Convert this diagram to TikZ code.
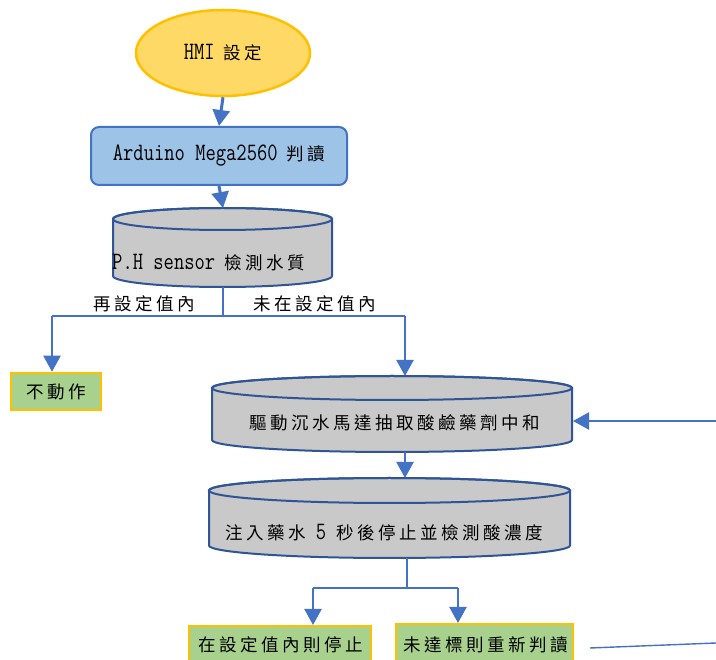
\documentclass[tikz,border=0pt]{standalone}
\usepackage{fontspec}
\usepackage{graphicx}
\usetikzlibrary{arrows.meta,shapes.geometric}
\newfontfamily\cjkfont[LetterSpace=20]{Noto Sans CJK TC}
\newcommand\zh[1]{{\cjkfont #1}}
\newcommand\lat[1]{\scalebox{1}[1.25]{\fontsize{20}{24}\selectfont\ttfamily #1}}
\newcommand\gap{\hspace{9pt}}
\definecolor{goldfill}{HTML}{FFD966}
\definecolor{goldline}{HTML}{FFC000}
\definecolor{boxblue}{HTML}{9DC3E6}
\definecolor{arrowblue}{HTML}{4472C4}
\definecolor{cylgray}{HTML}{C9C9C9}
\definecolor{cylline}{HTML}{2F5597}
\definecolor{boxgreen}{HTML}{A9D18E}
\begin{document}
\begin{tikzpicture}[x=1pt,y=1pt,
  txt/.style={font=\fontsize{17.5}{21}\selectfont, text=black, inner sep=0pt},
  startnode/.style={ellipse, draw=goldline, fill=goldfill, line width=2.5pt, minimum width=174pt, minimum height=86pt, inner sep=0pt, txt},
  procbox/.style={rectangle, rounded corners=8pt, draw=arrowblue, fill=boxblue, line width=2pt, minimum width=256pt, minimum height=58pt, txt},
  resultbox/.style={rectangle, draw=goldline, fill=boxgreen, line width=2.5pt, txt},
  cyl/.style={draw=cylline, fill=cylgray, line width=2pt},
  thickarrow/.style={draw=arrowblue, line width=3pt, -{Triangle[width=17pt,length=16pt]}},
  midarrow/.style={draw=arrowblue, line width=2.2pt, -{Triangle[width=17pt,length=16pt]}},
  thinline/.style={draw=arrowblue, line width=1.4pt}
]
\clip (0,0) rectangle (716,-660);
\fill[white] (0,0) rectangle (716,-660);

% start ellipse
\node[startnode] (hmi) at (223,-53) {\lat{HMI}\gap\zh{設定}};

% Arduino box
\node[procbox] (ard) at (219,-156) {\lat{Arduino Mega2560}\gap\zh{判讀}};

% cylinder 1
\filldraw[cyl] (113,-219) -- (113,-276) arc[start angle=180,end angle=360,x radius=109.5,y radius=11] -- (332,-219) arc[start angle=0,end angle=180,x radius=109.5,y radius=11] -- cycle;
\draw[cyl,fill=none] (222.5,-219) ellipse[x radius=109.5,y radius=11];
\node[txt, anchor=west] (ph) at (112,-263) {\lat{P.H sensor}\gap\zh{檢測水質}};
\coordinate (c1top) at (223,-208);
\coordinate (c1bot) at (223,-287);

% cylinder 2
\filldraw[cyl] (212,-388) -- (212,-440) arc[start angle=180,end angle=360,x radius=180,y radius=12] -- (572,-388) arc[start angle=0,end angle=180,x radius=180,y radius=12] -- cycle;
\draw[cyl,fill=none] (392,-388) ellipse[x radius=180,y radius=12];
\node[txt] (drive) at (395,-423) {\zh{驅動沉水馬達抽取酸鹼藥劑中和}};
\coordinate (c2top) at (405,-376);
\coordinate (c2bot) at (405,-452);
\coordinate (c2right) at (573,-421);

% cylinder 3
\filldraw[cyl] (209,-490.5) -- (209,-545.5) arc[start angle=180,end angle=360,x radius=180.5,y radius=12.5] -- (570,-490.5) arc[start angle=0,end angle=180,x radius=180.5,y radius=12.5] -- cycle;
\draw[cyl,fill=none] (389.5,-490.5) ellipse[x radius=180.5,y radius=12.5];
\node[txt] (inject) at (384,-533) {\zh{注入藥水}\lat{ 5 }\zh{秒後停止並檢測酸濃度}};
\coordinate (c3top) at (405,-478);
\coordinate (c3bot) at (407,-558);

% result boxes
\node[resultbox, minimum width=90pt, minimum height=37pt] (noact) at (56,-391.5) {\zh{不動作}};
\node[resultbox, minimum width=182pt, minimum height=42pt, anchor=north] (stop) at (280,-625) {};
\node[txt] (stoptxt) at (281,-645) {\zh{在設定值內則停止}};
\node[resultbox, minimum width=177pt, minimum height=44pt, anchor=north] (reread) at (484.5,-623) {};
\node[txt] (rereadtxt) at (486,-645) {\zh{未達標則重新判讀}};

% branch labels
\node[txt] (lblin) at (144.5,-304) {\zh{再設定值內}};
\node[txt] (lblout) at (314.5,-304) {\zh{未在設定值內}};

% junction coordinates
\coordinate (j1) at (223,-316);
\coordinate (jl) at (52,-316);
\coordinate (jr) at (405,-316);
\coordinate (j2) at (407,-588);
\coordinate (jl2) at (313,-588);
\coordinate (jr2) at (458,-588);
\coordinate (rin) at (716,-421);
\coordinate (lineA) at (590,-648);
\coordinate (lineB) at (716,-643);

% connectors
\draw[thickarrow] (hmi.south) -- (ard.north);
\draw[thickarrow] (ard.south) -- (c1top);
\draw[thinline] (c1bot) -- (j1);
\draw[thinline] (jl) -- (jr);
\draw[midarrow] (jl) -- (jl |- noact.north);
\draw[midarrow] (jr) -- (c2top);
\draw[midarrow] (c2bot) -- (c3top);
\draw[midarrow] (rin) -- (c2right);
\draw[thinline, line width=1.2pt] (c3bot) -- (j2);
\draw[thinline, line width=2pt] (jl2) -- (jr2);
\draw[midarrow] (jl2) -- (jl2 |- stop.north);
\draw[midarrow] (jr2) -- (jr2 |- reread.north);
\draw[thinline] (lineA) -- (lineB);
\end{tikzpicture}
\end{document}
